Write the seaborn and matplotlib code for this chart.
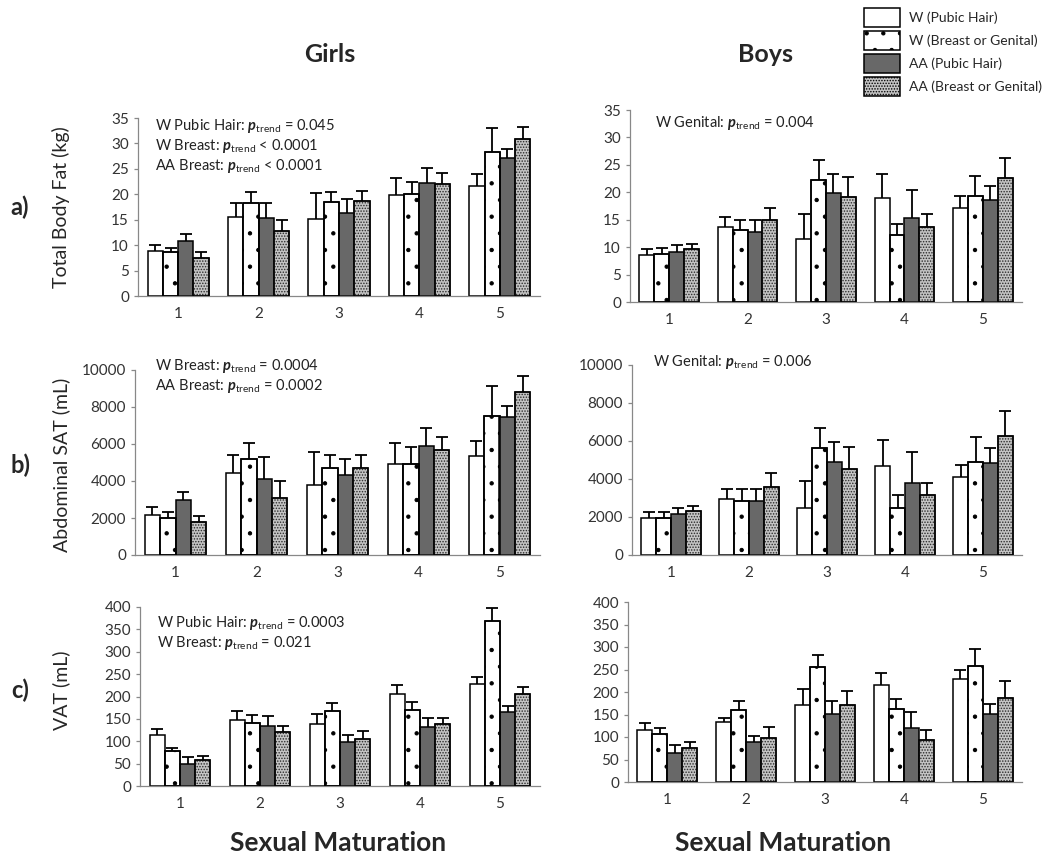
import numpy as np
import pandas as pd
import matplotlib
matplotlib.use("Agg")
import matplotlib.pyplot as plt
import seaborn as sns
from matplotlib.patches import Patch

# stages of sexual maturation (x categories)
stages = ["1", "2", "3", "4", "5"]
groups = ["W (Pubic Hair)", "W (Breast or Genital)", "AA (Pubic Hair)", "AA (Breast or Genital)"]

# means (rows = stage, cols = group) and top of error bar
girls_fat = [[8.8, 8.6, 10.9, 7.5], [15.6, 18.2, 15.3, 12.7], [15.1, 18.5, 16.4, 18.7],
             [19.8, 20.0, 22.3, 22.1], [21.6, 28.3, 27.2, 30.8]]
girls_fat_top = [[10.0, 9.5, 12.2, 8.6], [18.2, 20.5, 18.2, 14.9], [20.3, 20.5, 19.1, 20.7],
                 [23.2, 22.5, 25.2, 24.1], [23.9, 33.0, 29.0, 33.2]]
boys_fat = [[8.5, 8.7, 9.2, 9.6], [13.7, 13.1, 12.7, 14.9], [11.4, 22.3, 19.9, 19.1],
            [18.9, 12.3, 15.4, 13.7], [17.2, 19.3, 18.6, 22.6]]
boys_fat_top = [[9.6, 9.8, 10.4, 10.6], [15.5, 14.9, 14.9, 17.2], [16.0, 25.9, 23.4, 22.7],
                [23.4, 14.3, 20.5, 16.0], [19.3, 23.0, 21.1, 26.3]]

girls_sat = [[2150, 2000, 2950, 1780], [4450, 5200, 4100, 3100], [3800, 4700, 4300, 4700],
             [4900, 4900, 5900, 5650], [5350, 7500, 7450, 8800]]
girls_sat_top = [[2600, 2350, 3400, 2100], [5400, 6050, 5300, 4000], [5550, 5400, 5200, 5400],
                 [6050, 5850, 6850, 6400], [6150, 9150, 8050, 9650]]
boys_sat = [[1950, 1950, 2150, 2300], [2950, 2850, 2850, 3600], [2500, 5650, 4900, 4550],
            [4700, 2500, 3800, 3150], [4100, 4900, 4850, 6250]]
boys_sat_top = [[2250, 2250, 2500, 2600], [3450, 3500, 3500, 4300], [3900, 6700, 5950, 5700],
                [6050, 3150, 5400, 3800], [4750, 6200, 5650, 7600]]

girls_vat = [[115, 79, 50, 58], [148, 140, 133, 120], [138, 168, 98, 105],
             [205, 170, 132, 138], [228, 368, 166, 205]]
girls_vat_top = [[128, 84, 64, 66], [168, 158, 156, 135], [161, 185, 113, 123],
                 [226, 188, 151, 153], [243, 398, 178, 221]]
boys_vat = [[116, 106, 64, 76], [133, 159, 88, 98], [171, 255, 152, 171],
            [215, 163, 121, 93], [230, 258, 152, 187]]
boys_vat_top = [[131, 121, 83, 88], [143, 179, 103, 123], [207, 283, 179, 202],
                [243, 184, 156, 116], [250, 296, 173, 225]]

ylabels = ["Total Body Fat (kg)", "Abdominal SAT (mL)", "VAT (mL)"]
ymax = [35, 10000, 400]
ystep = [5, 2000, 50]

notes_girls = [["W Pubic Hair: $p_{\\mathrm{trend}}$ = 0.045",
                "W Breast: $p_{\\mathrm{trend}}$ < 0.0001",
                "AA Breast: $p_{\\mathrm{trend}}$ < 0.0001"],
               ["W Breast: $p_{\\mathrm{trend}}$ = 0.0004",
                "AA Breast: $p_{\\mathrm{trend}}$ = 0.0002"],
               ["W Pubic Hair: $p_{\\mathrm{trend}}$ = 0.0003",
                "W Breast: $p_{\\mathrm{trend}}$ = 0.021"]]
notes_boys = [["W Genital: $p_{\\mathrm{trend}}$ = 0.004"],
              ["W Genital: $p_{\\mathrm{trend}}$ = 0.006"],
              []]

sns.set_style("white")
plt.rcParams["font.family"] = ["Lato", "DejaVu Sans"]
plt.rcParams["mathtext.fontset"] = "custom"
plt.rcParams["mathtext.rm"] = "Lato"
plt.rcParams["mathtext.it"] = "Lato:italic:bold"
plt.rcParams["mathtext.bf"] = "Lato:bold"
plt.rcParams["hatch.linewidth"] = 0.7

W, H = 1050, 857
fig = plt.figure(figsize=(10.5, 8.57), dpi=100)

# axes boxes in pixels: left, top, right, bottom
boxes = {
    (0, 0): (138, 118, 540, 296), (0, 1): (630, 110, 1022, 302),
    (1, 0): (135, 370, 540, 555), (1, 1): (632, 365, 1022, 555),
    (2, 0): (140, 607, 540, 786), (2, 1): (628, 602, 1022, 782),
}

colors = ["white", "white", "#686868", "#c4c4c4"]
hatches = [None, ".", None, "......"]
edge_hatch = ["black", "black", "black", "#2a2a2a"]


def draw_panel(ax, means, tops, row):
    df = pd.DataFrame([(stages[i], groups[j], means[i][j])
                       for i in range(len(stages)) for j in range(len(groups))],
                      columns=["stage", "group", "value"])
    sns.barplot(data=df, x="stage", y="value", hue="group", order=stages, hue_order=groups,
                palette=colors, errorbar=None, width=0.76, gap=0, legend=False,
                edgecolor="black", linewidth=1.1, saturation=1, ax=ax)
    # sort bars by position to know stage and group of each
    bars = sorted(ax.patches, key=lambda p: p.get_x())
    for k, p in enumerate(bars):
        i, j = divmod(k, len(groups))
        if hatches[j]:
            p.set_hatch(hatches[j])
            p.set_edgecolor(edge_hatch[j])
        xc = p.get_x() + p.get_width() / 2
        err = tops[i][j] - means[i][j]
        _, caps, _ = ax.errorbar(xc, means[i][j], yerr=[[0], [err]], fmt="none",
                                 ecolor="black", elinewidth=1.3, capsize=4, capthick=1.3,
                                 zorder=5)
        caps[0].set_visible(False)
    # redraw black outline over hatched bars
    for k, p in enumerate(bars):
        j = k % len(groups)
        if hatches[j]:
            ax.add_patch(plt.Rectangle((p.get_x(), 0), p.get_width(), p.get_height(),
                                       fill=False, edgecolor="black", linewidth=1.1, zorder=3))
    ax.set_xlim(-0.5, len(stages) - 0.5)
    ax.set_ylim(0, ymax[row])
    ax.set_yticks(np.arange(0, ymax[row] + 1, ystep[row]))
    ax.set_xticks(range(len(stages)))
    ax.set_xticks(np.arange(-0.5, len(stages)), minor=True)
    ax.tick_params(axis="x", which="major", length=0, labelsize=11, pad=8, colors="#333333")
    ax.tick_params(axis="x", which="minor", length=5, width=0.9, color="#888888")
    ax.tick_params(axis="y", length=3, width=0.9, color="#888888", labelsize=11,
                   labelcolor="#333333", left=True)
    ax.set_xlabel("")
    ax.set_ylabel("")
    for s in ["top", "right"]:
        ax.spines[s].set_visible(False)
    for s in ["left", "bottom"]:
        ax.spines[s].set_color("#888888")
        ax.spines[s].set_linewidth(0.9)


data = [[(girls_fat, girls_fat_top), (boys_fat, boys_fat_top)],
        [(girls_sat, girls_sat_top), (boys_sat, boys_sat_top)],
        [(girls_vat, girls_vat_top), (boys_vat, boys_vat_top)]]

axes = {}
for r in range(3):
    for c in range(2):
        l, t, rr, b = boxes[(r, c)]
        ax = fig.add_axes([l / W, 1 - b / H, (rr - l) / W, (b - t) / H])
        draw_panel(ax, data[r][c][0], data[r][c][1], r)
        axes[(r, c)] = ax

# p-trend notes (pixel positions of first line)
note_pos_g = [(155, 126), (155, 366), (157, 623)]
note_pos_b = [(655, 123), (653, 362), (0, 0)]
for r in range(3):
    x0, y0 = note_pos_g[r]
    for k, s in enumerate(notes_girls[r]):
        fig.text(x0 / W, 1 - (y0 + 20 * k) / H, s, fontsize=10.5, va="center", ha="left",
                 color="#222222")
    x0, y0 = note_pos_b[r]
    for k, s in enumerate(notes_boys[r]):
        fig.text(x0 / W, 1 - (y0 + 20 * k) / H, s, fontsize=10.5, va="center", ha="left",
                 color="#222222")

# y labels and panel letters
ylab_y = [207, 465, 690]
for r, lab in enumerate(ylabels):
    fig.text(61 / W, 1 - ylab_y[r] / H, lab, rotation=90, fontsize=14, ha="center",
             va="center")
    fig.text(20 / W, 1 - ylab_y[r] / H, "abc"[r] + ")", fontsize=17, fontweight="bold",
             ha="center", va="center")

fig.text(330 / W, 1 - 55 / H, "Girls", fontsize=18, fontweight="bold", ha="center", va="center")
fig.text(765 / W, 1 - 55 / H, "Boys", fontsize=18, fontweight="bold", ha="center", va="center")
fig.text(338 / W, 1 - 843 / H, "Sexual Maturation", fontsize=19, fontweight="bold",
         ha="center", va="center")
fig.text(783 / W, 1 - 843 / H, "Sexual Maturation", fontsize=19, fontweight="bold",
         ha="center", va="center")

handles = [Patch(facecolor=colors[j], edgecolor="black", hatch=hatches[j], linewidth=1.1)
           for j in range(len(groups))]
fig.legend(handles, groups, loc="upper right", bbox_to_anchor=(1.0, 1.0), frameon=False,
           fontsize=10, handlelength=2.6, handleheight=1.7, labelspacing=0.3,
           handletextpad=0.6, borderaxespad=0.2)

fig.savefig("out.png", dpi=100)
